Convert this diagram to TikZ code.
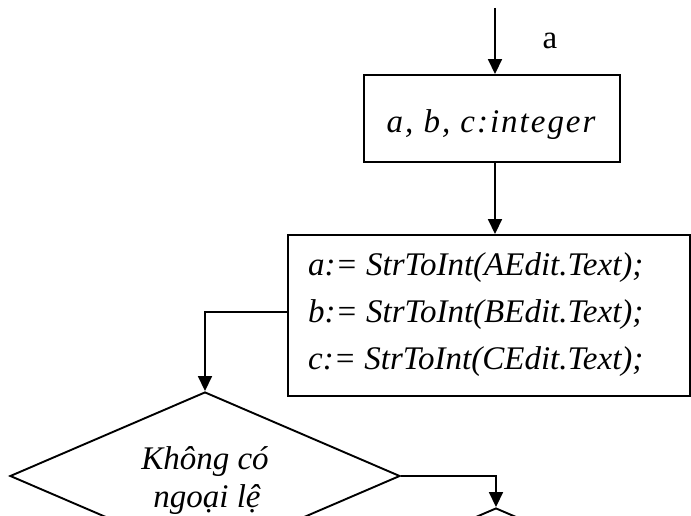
\documentclass[tikz,border=0pt]{standalone}
\usepackage{fontspec}
\setmainfont{Liberation Serif}
\newfontfamily\codefont{Liberation Serif}
\newfontfamily\widefont{Liberation Serif}[LetterSpace=6]
\usetikzlibrary{arrows.meta,shapes.geometric}
\tikzset{
 box/.style={draw,line width=1.9pt,rectangle,inner sep=0pt},
 dia/.style={draw,line width=1.9pt,diamond,inner sep=0pt,minimum width=390pt,minimum height=168pt},
 arr/.style={line width=1.7pt,-{Triangle[width=14pt,length=15pt]}},
 code/.style={font=\codefont\itshape\fontsize{33}{40}\selectfont,inner sep=0pt},
 wide/.style={font=\widefont\itshape\fontsize{33}{40}\selectfont,inner sep=0pt},
 lbl/.style={font=\fontsize{33}{40}\selectfont,inner sep=0pt},
}
\begin{document}
\begin{tikzpicture}[x=1pt,y=-1pt]
\useasboundingbox (0,0) rectangle (691,516);
\coordinate (top) at (495,8);
\node[box,minimum width=256pt,minimum height=87pt] (b1) at (492,118.5) {};
\node[wide,anchor=base] (t1) at (491,133) {a, b, c:integer};
\node[box,minimum width=402pt,minimum height=161pt] (b2) at (489,315.5) {};
\node[code,anchor=base west] (l1) at (308,275) {a:= StrToInt(AEdit.Text);};
\node[code,anchor=base west] (l2) at (308,322) {b:= StrToInt(BEdit.Text);};
\node[code,anchor=base west] (l3) at (308,369) {c:= StrToInt(CEdit.Text);};
\node[dia] (d1) at (205,476) {};
\node[code,anchor=base] (k1) at (205,469) {Không có};
\node[code,anchor=base] (k2) at (207,507) {ngoại lệ};
\node[dia] (d2) at (496,592) {};
\node[lbl,anchor=base] (la) at (550,49) {a};
\draw[arr] (top) -- (top |- b1.north);
\draw[arr] (top |- b1.south) -- (top |- b2.north);
\draw[arr] ([yshift=3.5pt]b2.west) -| (d1.north);
\draw[arr] (d1.east) -| (d2.north);
\end{tikzpicture}
\end{document}
